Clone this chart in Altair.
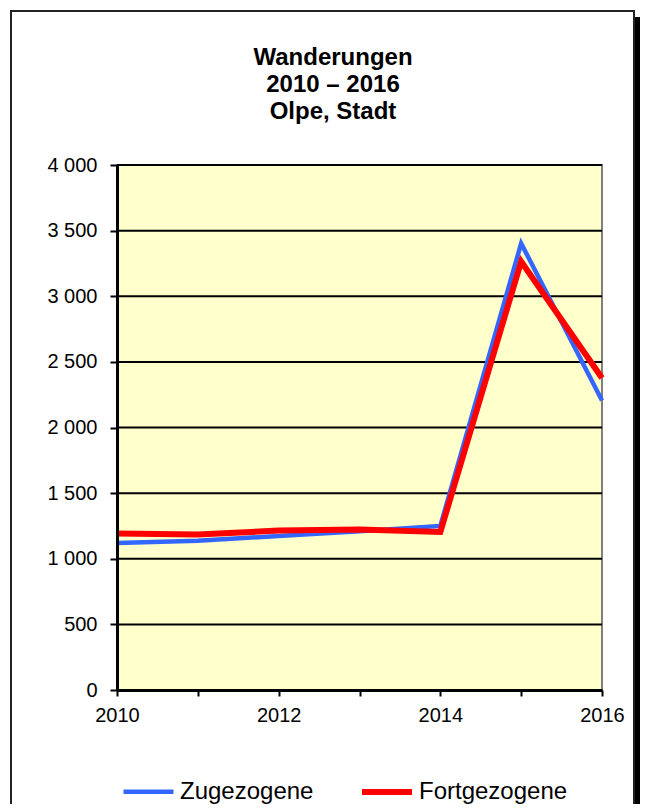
import altair as alt
import pandas as pd

years = [2010, 2011, 2012, 2013, 2014, 2015, 2016]
zugezogene = [1120, 1138, 1173, 1210, 1250, 3403, 2205]
fortgezogene = [1192, 1185, 1215, 1222, 1204, 3265, 2377]
series_names = ["Zugezogene", "Fortgezogene"]
series_colors = ["#3366FF", "#FF0000"]
y_ticks = [0, 500, 1000, 1500, 2000, 2500, 3000, 3500, 4000]
title_lines = ["Wanderungen", "2010 – 2016", "Olpe, Stadt"]

rows = []
for i, y in enumerate(years):
    rows.append({"Jahr": y, "Wert": zugezogene[i], "Reihe": series_names[0], "o": 0})
for i, y in enumerate(years):
    rows.append({"Jahr": y, "Wert": fortgezogene[i], "Reihe": series_names[1], "o": 1})
df = pd.DataFrame(rows)

W, H = 485, 525
FONT = "Liberation Sans"

one = pd.DataFrame({"a": [0]})

shadow = alt.Chart(one).mark_rect(color="black").encode(
    x=alt.value(-100), x2=alt.value(523), y=alt.value(-148), y2=alt.value(720)
)
frame = alt.Chart(one).mark_rect(fill="white", stroke="#222222", strokeWidth=2).encode(
    x=alt.value(-106), x2=alt.value(517), y=alt.value(-154), y2=alt.value(712)
)

title = alt.Chart(pd.DataFrame({"t": ["\n".join(title_lines)]})).mark_text(
    font=FONT, fontSize=24, fontWeight="bold", lineHeight=27, align="center",
    baseline="alphabetic", lineBreak="\n", color="black",
).encode(text="t:N", x=alt.value(216), y=alt.value(-100))

xscale = alt.Scale(domain=[years[0], years[-1]], nice=False, zero=False)
yscale = alt.Scale(domain=[y_ticks[0], y_ticks[-1]], nice=False)

plotbg = alt.Chart(pd.DataFrame({"x0": [years[0]], "x1": [years[-1]], "y0": [y_ticks[0]], "y1": [y_ticks[-1]]})).mark_rect(
    fill="#FFFFCC", stroke="#7f7f7f", strokeWidth=2
).encode(
    x=alt.X("x0:Q", scale=xscale),
    x2="x1",
    y=alt.Y("y0:Q", scale=yscale),
    y2="y1",
)

grid = alt.Chart(pd.DataFrame({"v": y_ticks[1:]})).mark_rule(color="black", strokeWidth=2).encode(
    y=alt.Y("v:Q", scale=yscale),
    x=alt.value(0),
    x2=alt.value(W),
)

lines = alt.Chart(df).mark_line(strokeJoin="miter").encode(
    x=alt.X(
        "Jahr:Q",
        scale=xscale,
        title=None,
        axis=alt.Axis(
            values=years,
            labelExpr="datum.value % 2 == 0 ? datum.value : ''",
            format="d",
            labelFlush=False,
            tickSize=6,
            tickWidth=2,
            tickColor="black",
            domainColor="black",
            domainWidth=3,
            labelPadding=9,
            grid=False,
            zindex=1,
            labelFont=FONT,
            labelFontSize=20,
            labelColor="black",
        ),
    ),
    y=alt.Y(
        "Wert:Q",
        scale=yscale,
        title=None,
        axis=alt.Axis(
            values=y_ticks,
            labelExpr="replace(format(datum.value, ','), ',', ' ')",
            tickSize=7,
            tickWidth=2,
            tickColor="black",
            domainColor="black",
            domainWidth=3,
            labelPadding=13,
            grid=False,
            zindex=1,
            labelFont=FONT,
            labelFontSize=20,
            labelColor="black",
        ),
    ),
    color=alt.Color(
        "Reihe:N",
        scale=alt.Scale(domain=series_names, range=series_colors),
        sort=series_names,
        title=None,
        legend=alt.Legend(
            orient="none",
            legendX=4,
            legendY=599,
            direction="horizontal",
            symbolType="stroke",
            symbolSize=2500,
            symbolStrokeWidth=5,
            labelFontSize=24,
            labelFont=FONT,
            labelColor="black",
            labelOffset=4,
            columnPadding=36,
            padding=0,
        ),
    ),
    strokeWidth=alt.StrokeWidth(
        "Reihe:N", scale=alt.Scale(domain=series_names, range=[4.5, 6]), legend=None
    ),
    order="o:Q",
    detail="Reihe:N",
)

chart = alt.layer(shadow, frame, title, plotbg, grid, lines).properties(
    width=W,
    height=H,
    background="white",
    autosize=alt.AutoSizeParams(type="none"),
    padding={"left": 109, "top": 157, "right": 38, "bottom": 114},
).configure_view(stroke=None)

chart.save("out.html", embed_options={"renderer": "svg", "actions": False})
